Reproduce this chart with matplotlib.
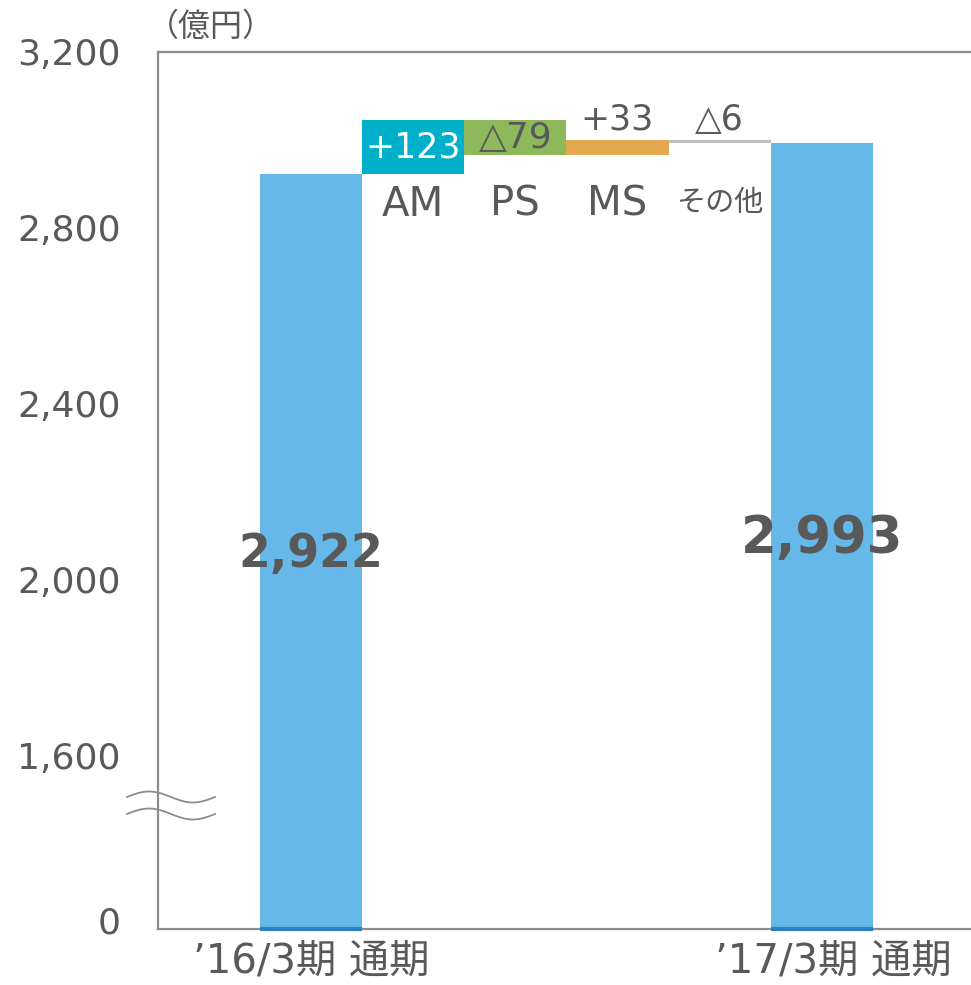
import numpy as np
import matplotlib
matplotlib.use("Agg")
import matplotlib.pyplot as plt
import matplotlib.transforms as mtransforms

plt.rcParams['font.family'] = ['DejaVu Sans', 'Noto Sans CJK JP']

# ---- data ----
start_label = "’16/3期 通期"
end_label = "’17/3期 通期"
start_value = 2922
end_value = 2993
seg_names = ["AM", "PS", "MS", "その他"]
seg_deltas = [123, -79, 33, -6]
seg_texts = ["+123", "△79", "+33", "△6"]
seg_colors = ["#00AFCA", "#8DB95B", "#E6A751", "#BEBEBE"]
yticks = [0, 1600, 2000, 2400, 2800, 3200]
ytick_labels = ["0", "1,600", "2,000", "2,400", "2,800", "3,200"]
unit_label = "（億円）"

TXT = "#595959"
SPINE = "#8C8C8C"
BAR = "#65B8E7"

# broken y scale: 0..1600 compressed
BRK = 1600.0
K = 0.247

def fwd(v):
    v = np.asarray(v, dtype=float)
    return np.where(v >= BRK, v, BRK - (BRK - v) * K)

def inv(u):
    u = np.asarray(u, dtype=float)
    return np.where(u >= BRK, u, BRK - (BRK - u) / K)

W, H = 971, 985
fig = plt.figure(figsize=(W / 100, H / 100), dpi=100)
AXW = 860
ax = fig.add_axes([158 / W, (H - 929) / H, AXW / W, 877 / H])
ax.set_yscale('function', functions=(fwd, inv))

n = len(seg_names)
x_start = 0
x_segs = np.arange(1, n + 1)
x_end = n + 1

# totals
ax.bar([x_start, x_end], [start_value, end_value], width=1.0, color=BAR, zorder=2)
ax.hlines([0, 0], [x_start - 0.5, x_end - 0.5], [x_start + 0.5, x_end + 0.5],
          color="#2E7FC0", lw=3, zorder=3, clip_on=False)

# segments
level = start_value
for i, d in enumerate(seg_deltas):
    lo = min(level, level + d)
    ax.bar(x_segs[i], abs(d), bottom=lo, width=1.0, color=seg_colors[i], zorder=2)
    top = max(level, level + d)
    if i == 0:
        ax.text(x_segs[i], lo + abs(d) / 2, seg_texts[i], ha='center', va='center',
                fontsize=25, color='white', zorder=4)
    elif i == 1:
        ax.text(x_segs[i], lo + abs(d) / 2, seg_texts[i], ha='center', va='center',
                fontsize=26, color=TXT, zorder=4)
    else:
        ax.text(x_segs[i], top + 8, seg_texts[i], ha='center', va='bottom',
                fontsize=25, color=TXT, zorder=4)
    level += d

# segment names
for i, nm in enumerate(seg_names):
    if i == 3:
        ax.text(x_segs[i], 2857, nm, ha='center', va='center', fontsize=21,
                color=TXT, family=['Noto Sans CJK JP'])
    else:
        ax.text(x_segs[i], 2852, nm, ha='center', va='center', fontsize=29, color=TXT)

# big totals
ax.text(x_start, 2057, f"{start_value:,}", ha='center', va='center', fontsize=33,
        fontweight='bold', color=TXT, zorder=4)
ax.text(x_end, 2091, f"{end_value:,}", ha='center', va='center', fontsize=37,
        fontweight='bold', color=TXT, zorder=4)

ax.set_xlim(-1.5, -1.5 + AXW / 102.1)
ax.set_ylim(0, 3200)
ax.set_yticks(yticks)
ax.set_yticklabels(ytick_labels)
ax.yaxis.set_minor_locator(matplotlib.ticker.NullLocator())
ax.set_xticks([x_start, x_end])
ax.set_xticklabels([start_label, end_label])
ax.tick_params(axis='y', length=0, pad=27, labelsize=26, labelcolor=TXT)
ax.tick_params(axis='x', length=0, pad=9, labelsize=29, labelcolor=TXT)

# nudge labels to match reference placement
ylabs = ax.get_yticklabels()
ylabs[0].set_transform(ylabs[0].get_transform() +
                       mtransforms.ScaledTranslation(0, 9 / 100, fig.dpi_scale_trans))
xlabs = ax.get_xticklabels()
xlabs[1].set_transform(xlabs[1].get_transform() +
                       mtransforms.ScaledTranslation(12 / 100, 0, fig.dpi_scale_trans))

for s in ['left', 'top', 'bottom']:
    ax.spines[s].set_color(SPINE)
    ax.spines[s].set_linewidth(1.6)
ax.spines['right'].set_visible(False)

# unit label
fig.text(211 / W, (H - 27) / H, unit_label, ha='center', va='center', fontsize=23,
         color=TXT, family=['Noto Sans CJK JP'])

# axis break marks (decoration)
xs = np.linspace(127, 215, 100)
for yc in (797, 814):
    ys = yc - 5.5 * np.sin((xs - 127) / 88 * 2 * np.pi)
    fig.add_artist(matplotlib.lines.Line2D(xs / W, (H - ys) / H, color="#8C8C8C", lw=1.3))

fig.savefig("out.png", dpi=100)
